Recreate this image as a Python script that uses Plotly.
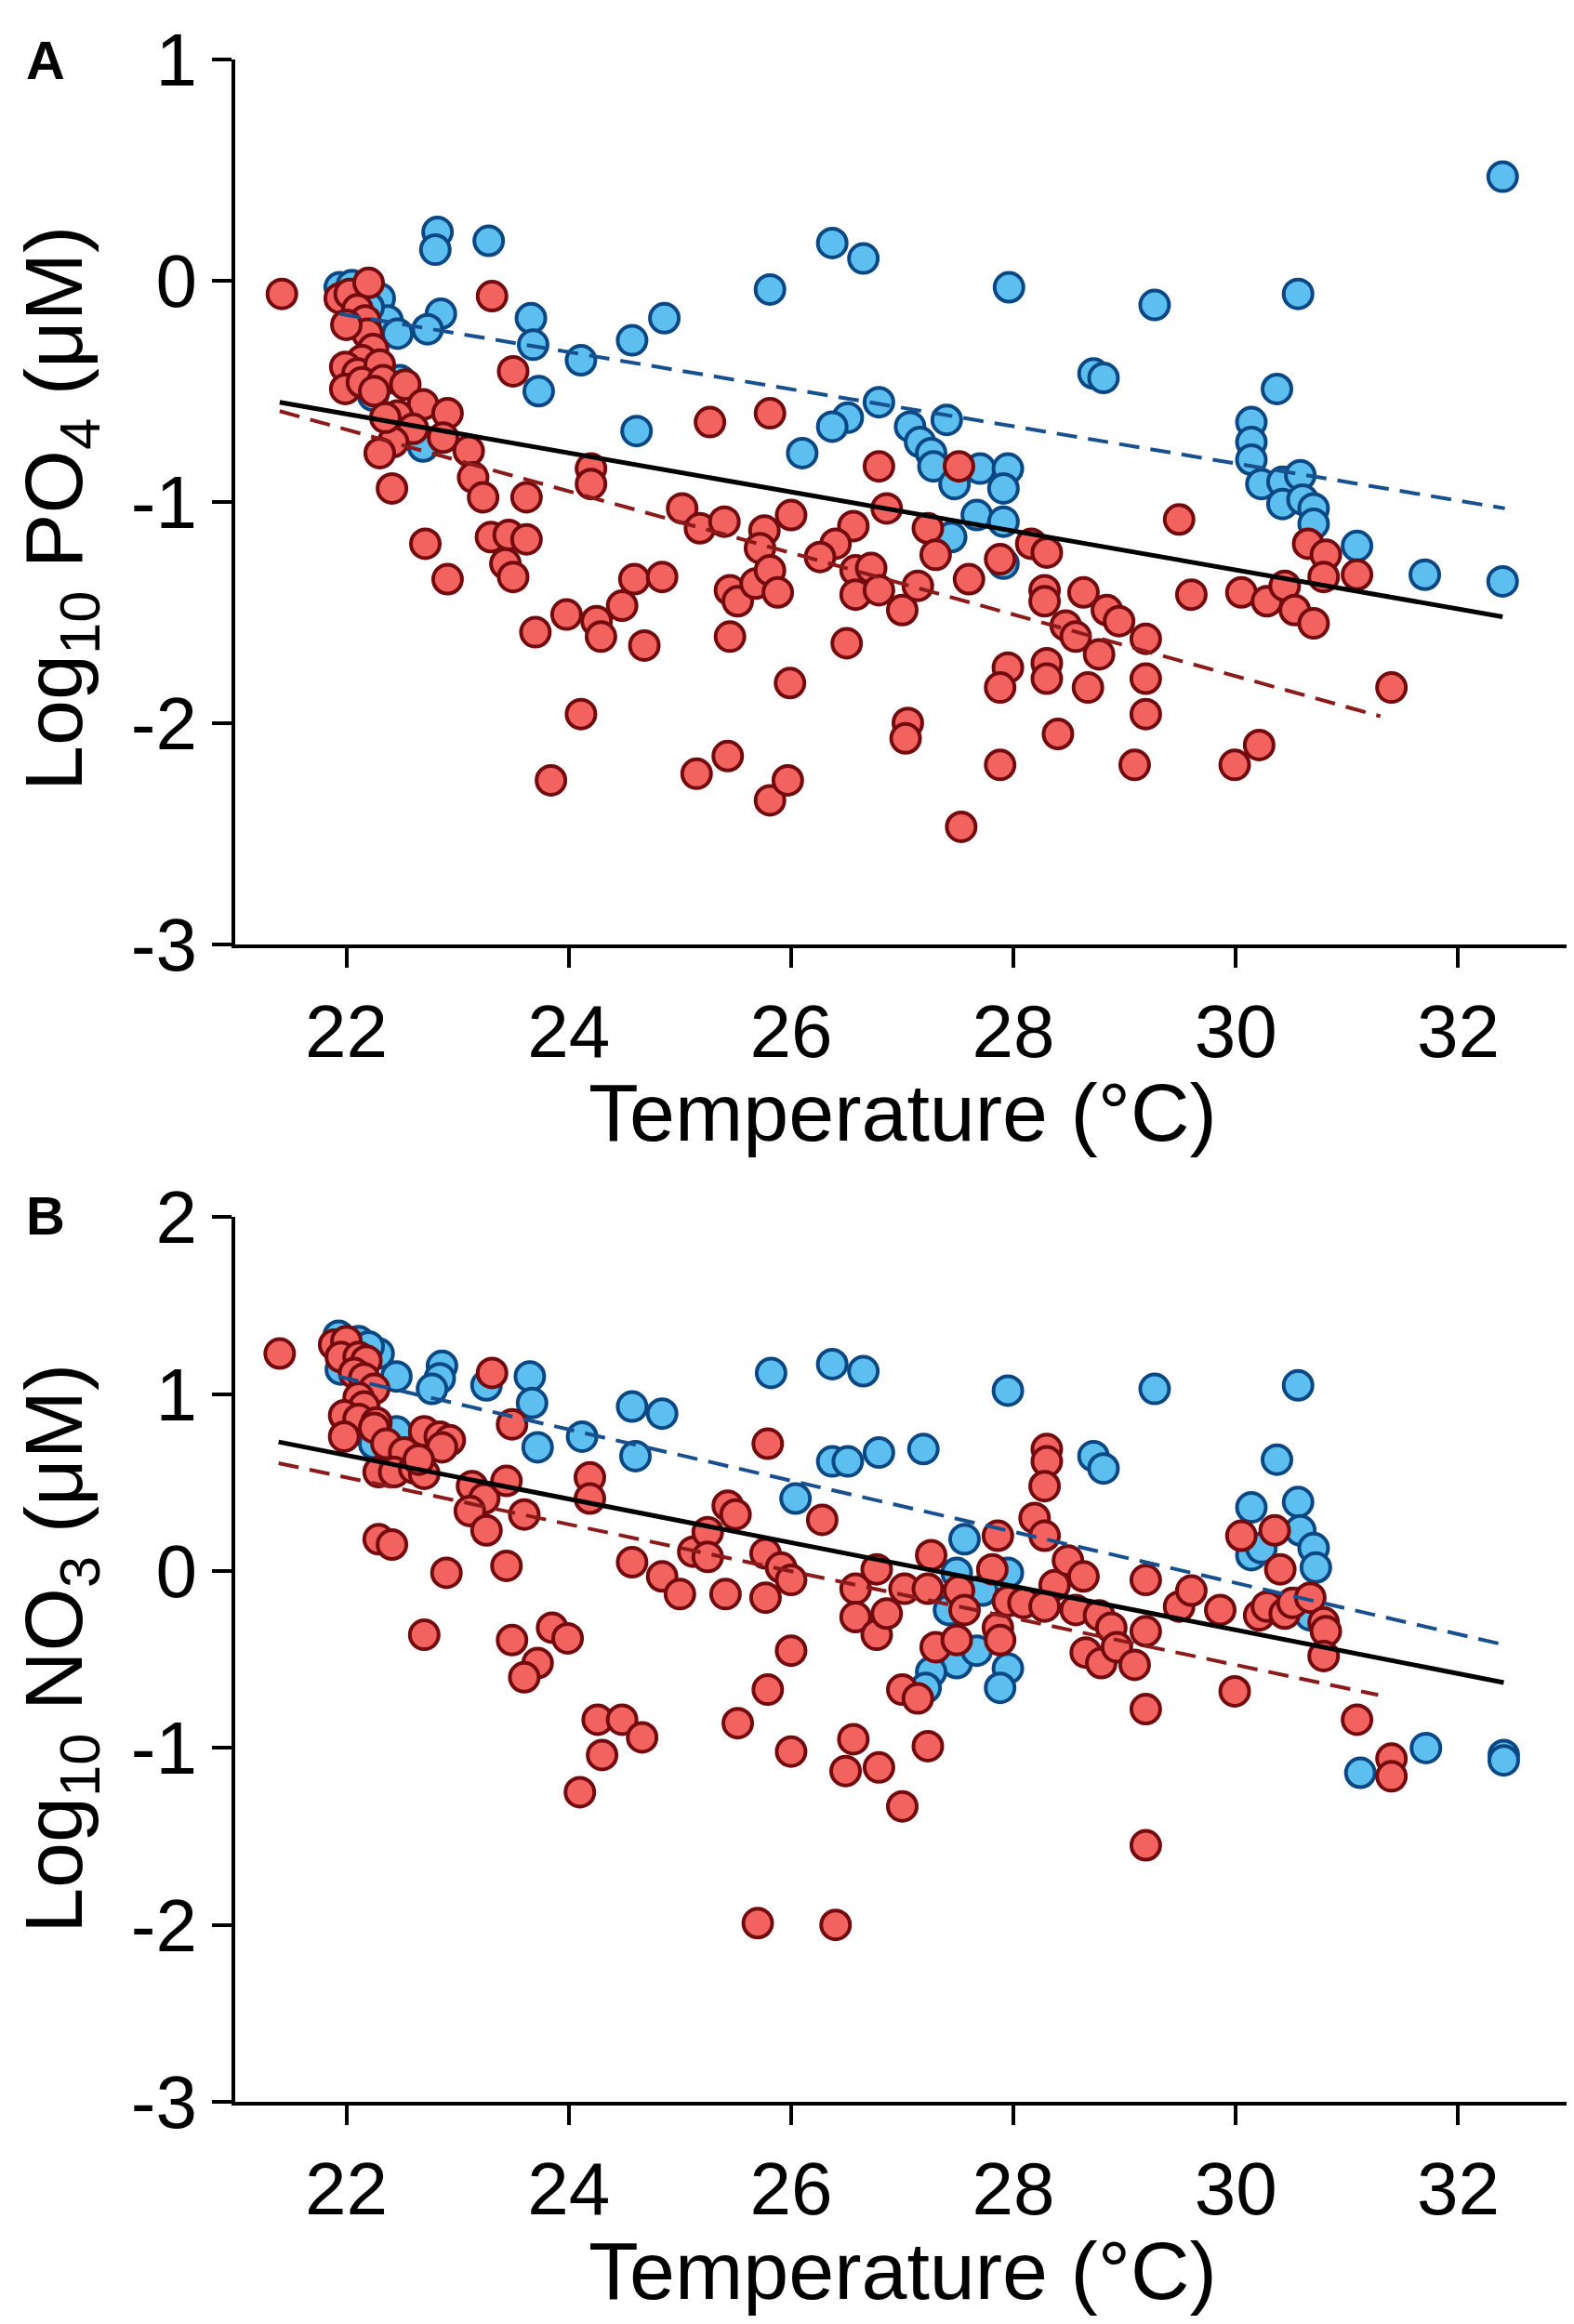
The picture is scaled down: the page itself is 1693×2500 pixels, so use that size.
import plotly.graph_objs as go

# ---- panel A: log10 PO4 vs temperature ----
po4_red_t = [21.42, 21.94, 22.03, 22.2, 22.1, 22.17, 22.19, 22.24, 22.14, 21.99, 22.1, 22.3, 21.99, 22.14,
             22.33, 22.53, 22.69, 22.91, 22.46, 22.6, 22.42, 22.3, 22.87, 23.1, 23.14, 23.23, 22.41, 22.71,
             22.91, 23.31, 23.5, 23.62, 23.3, 23.46, 23.62, 23.43, 23.5, 23.7, 23.98, 24.2, 24.2, 24.25,
             24.29, 24.48, 24.59, 24.84, 24.68, 24.11, 23.84, 25.27, 25.02, 25.18, 25.4, 25.45, 25.52, 25.68,
             25.76, 25.72, 25.81, 25.88, 25.45, 25.15, 25.43, 25.81, 25.81, 25.97, 25.99, 26.0, 22.0, 22.25,
             22.35,
             26.79, 27.51, 26.86, 26.56, 26.4, 26.26, 26.58, 26.72, 26.58, 26.79, 27.0, 27.14, 27.23, 27.3,
             27.6, 27.88, 28.16, 28.3, 28.28, 28.28, 28.63, 28.47, 28.56, 28.77, 28.84, 28.95, 29.19, 29.19,
             29.19, 29.09, 28.67, 28.3, 28.3, 27.95, 27.88, 28.4, 27.88, 27.53, 27.05, 27.03, 26.5, 29.49,
             29.6, 30.05, 30.28, 30.44, 30.53, 30.7, 30.65, 30.81, 30.79, 31.09, 31.4, 30.21, 29.99]
po4_red_y = [-0.06, -0.08, -0.06, -0.01, -0.13, -0.18, -0.24, -0.31, -0.36, -0.39, -0.42, -0.38, -0.49, -0.46,
             -0.45, -0.47, -0.56, -0.6, -0.61, -0.67, -0.73, -0.78, -0.71, -0.77, -0.89, -0.98, -0.94, -1.19,
             -1.35, -0.07, -0.41, -0.98, -1.16, -1.15, -1.17, -1.28, -1.34, -1.59, -1.51, -0.85, -0.92, -1.54,
             -1.61, -1.47, -1.35, -1.34, -1.65, -1.96, -2.26, -0.64, -1.03, -1.12, -1.09, -1.4, -1.45, -1.37,
             -1.13, -1.21, -1.31, -1.41, -1.61, -2.23, -2.15, -0.6, -2.35, -2.26, -1.82, -1.06, -0.2, -0.5,
             -0.62,
             -0.84, -0.84, -1.03, -1.11, -1.19, -1.25, -1.31, -1.3, -1.42, -1.4, -1.49, -1.38, -1.12, -1.24,
             -1.35, -1.26, -1.19, -1.23, -1.4, -1.45, -1.41, -1.56, -1.61, -1.69, -1.49, -1.54, -1.62, -1.8,
             -1.96, -2.19, -1.84, -1.73, -1.8, -1.75, -1.84, -2.05, -2.19, -2.47, -2.0, -2.07, -1.64, -1.08,
             -1.42, -1.41, -1.45, -1.38, -1.49, -1.55, -1.19, -1.24, -1.34, -1.33, -1.84, -2.1, -2.19]

po4_blue_t = [21.94, 22.3, 22.37, 22.46, 22.24, 22.48, 22.82, 22.8, 23.28, 22.85, 22.73, 23.66, 23.68, 23.73,
              24.11, 24.57, 24.86, 24.61, 25.81, 22.69, 22.05, 22.2,
              26.37, 26.65, 27.96, 29.27, 30.56, 32.4, 28.72, 28.81, 30.37, 26.79, 26.51, 26.37, 26.1, 27.07,
              27.16, 27.26, 27.28, 27.4, 27.47, 27.7, 27.95, 27.91, 27.67, 27.91, 27.44, 27.91, 30.14, 30.14,
              30.14, 30.23, 30.42, 30.58, 30.42, 30.6, 30.7, 30.7, 31.09, 31.7, 32.4]
po4_blue_y = [-0.03, -0.08, -0.18, -0.24, -0.52, -0.45, 0.22, 0.14, 0.18, -0.15, -0.22, -0.17, -0.29, -0.5,
              -0.36, -0.27, -0.17, -0.68, -0.04, -0.75, -0.02, -0.12,
              0.17, 0.1, -0.03, -0.11, -0.06, 0.47, -0.42, -0.44, -0.49, -0.55, -0.62, -0.66, -0.78, -0.66,
              -0.73, -0.78, -0.84, -0.63, -0.92, -0.85, -0.85, -0.94, -1.06, -1.09, -1.16, -1.28, -0.64, -0.73,
              -0.81, -0.92, -0.91, -0.88, -1.01, -0.99, -1.03, -1.1, -1.2, -1.33, -1.36]

# fitted lines (end points)
po4_fit_all_t = [21.4, 32.4]
po4_fit_all_y = [-0.55, -1.52]
po4_fit_blue_t = [21.94, 32.42]
po4_fit_blue_y = [-0.15, -1.03]
po4_fit_red_t = [21.4, 31.3]
po4_fit_red_y = [-0.59, -1.97]

# ---- panel B: log10 NO3 vs temperature ----
no3_red_t = [21.4, 21.89, 22.0, 21.95, 22.11, 22.18, 22.07, 22.16, 22.25, 22.11, 22.16, 21.98, 22.11, 22.27,
             22.25, 21.98, 22.36, 22.52, 22.7, 22.84, 22.93, 22.86, 22.29, 22.43, 22.61, 22.7, 22.65, 22.29,
             22.41, 22.9, 22.7, 23.31, 23.49, 23.13, 23.24, 23.11, 23.26, 23.44, 23.6, 23.44, 23.49, 23.72,
             23.6, 23.85, 23.99, 24.19, 24.19, 24.26, 24.48, 24.66, 24.3, 24.1, 24.57, 24.84, 25.0, 25.12,
             25.25, 25.25, 25.43, 25.5, 25.41, 25.52, 25.79, 25.77, 25.91, 25.77, 25.79, 26.0, 26.0, 25.7,
             26.0,
             26.28, 26.4, 26.56, 26.49, 26.79, 27.0, 27.23, 27.0, 27.14, 26.58, 26.77, 26.58, 26.77, 26.86,
             27.02, 27.23, 27.26, 27.3, 27.49, 27.51, 27.56, 27.86, 27.81, 27.86, 27.88, 27.95, 28.09, 28.19,
             28.3, 28.3, 28.28, 28.28, 28.37, 28.28, 28.49, 28.63, 28.56, 28.77, 28.88, 28.65, 28.79, 28.93,
             29.09, 29.19, 29.19, 29.19, 29.19, 29.49, 29.6, 29.86, 29.99, 30.05, 30.35, 30.4, 30.21, 30.28,
             30.44, 30.51, 30.67, 30.79, 30.81, 30.79, 31.09, 31.4, 31.4]
no3_red_y = [1.23, 1.28, 1.3, 1.21, 1.21, 1.19, 1.12, 1.09, 1.03, 0.98, 0.93, 0.88, 0.86, 0.84,
             0.81, 0.76, 0.72, 0.67, 0.79, 0.76, 0.74, 0.7, 0.56, 0.56, 0.58, 0.55, 0.63, 0.18,
             0.15, -0.01, -0.36, 1.12, 0.83, 0.48, 0.41, 0.34, 0.23, 0.51, 0.32, 0.03, -0.39, -0.52,
             -0.6, -0.32, -0.38, 0.53, 0.41, -0.84, -0.84, -0.94, -1.04, -1.25, 0.05, -0.03, -0.13, 0.11,
             0.22, 0.08, 0.37, 0.32, -0.13, -0.86, 0.72, 0.1, 0.02, -0.15, -0.67, -0.45, -1.02, -1.99,
             -0.05,
             0.29, -2.0, -0.95, -1.13, -1.11, -1.33, -0.99, -0.67, -0.72, -0.1, 0.01, -0.26, -0.36, -0.24,
             -0.1, -0.1, 0.09, -0.43, -0.39, -0.11, -0.22, 0.2, 0.01, -0.32, -0.39, -0.17, -0.18, 0.3,
             0.69, 0.62, 0.48, 0.2, -0.08, -0.2, 0.06, -0.03, -0.22, -0.25, -0.32, -0.46, -0.52, -0.43,
             -0.53, -0.34, -0.05, -0.78, -1.55, -0.2, -0.11, -0.22, -0.68, 0.2, 0.23, 0.01, -0.25, -0.2,
             -0.24, -0.18, -0.15, -0.29, -0.34, -0.48, -0.84, -1.06, -1.16]

no3_blue_t = [21.93, 22.11, 22.29, 22.45, 21.95, 22.86, 22.84, 22.77, 23.26, 23.65, 23.67, 23.72, 24.12, 24.57,
              24.84, 24.6, 25.82, 26.04, 22.25, 22.45, 22.2,
              26.37, 26.65, 27.95, 29.27, 30.56, 26.37, 26.51, 26.79, 27.19, 28.72, 28.81, 30.37, 30.14, 30.56,
              30.58, 30.7, 30.14, 30.23, 30.72, 30.58, 30.67, 27.56, 27.49, 27.72, 27.95, 27.42, 27.49, 27.67,
              27.26, 27.21, 27.95, 27.88, 31.12, 31.71, 32.41, 32.41]
no3_blue_y = [1.33, 1.3, 1.23, 1.1, 1.14, 1.16, 1.09, 1.03, 1.05, 1.1, 0.95, 0.7, 0.76, 0.93,
              0.89, 0.65, 1.12, 0.41, 0.72, 0.79, 1.27,
              1.17, 1.13, 1.02, 1.03, 1.05, 0.62, 0.62, 0.67, 0.69, 0.65, 0.58, 0.63, 0.36, 0.39,
              0.23, 0.13, 0.09, 0.13, 0.02, -0.18, -0.25, 0.18, -0.01, -0.11, -0.01, -0.22, -0.52, -0.45,
              -0.57, -0.66, -0.55, -0.66, -1.14, -1.0, -1.04, -1.07]

no3_fit_all_t = [21.39, 32.41]
no3_fit_all_y = [0.73, -0.63]
no3_fit_blue_t = [21.93, 32.37]
no3_fit_blue_y = [1.1, -0.41]
no3_fit_red_t = [21.39, 31.28]
no3_fit_red_y = [0.61, -0.7]

x_ticks = [22, 24, 26, 28, 30, 32]
po4_ticks = [-3, -2, -1, 0, 1]
no3_ticks = [-3, -2, -1, 0, 1, 2]

RED_FILL = '#F2625F'
RED_EDGE = '#730B0E'
BLUE_FILL = '#5CBFF0'
BLUE_EDGE = '#0B4883'
FONT = 'Liberation Sans, Arial, Helvetica, sans-serif'


def dots(t, y, fill, edge, xa, ya):
    return go.Scatter(x=t, y=y, mode='markers', xaxis=xa, yaxis=ya, showlegend=False,
                      marker=dict(size=31, color=fill, line=dict(color=edge, width=4)))


def fit(t, y, color, dash, width, xa, ya):
    return go.Scatter(x=t, y=y, mode='lines', xaxis=xa, yaxis=ya, showlegend=False,
                      line=dict(color=color, width=width, dash=dash))


traces = [
    dots(po4_blue_t, po4_blue_y, BLUE_FILL, BLUE_EDGE, 'x', 'y'),
    dots(po4_red_t, po4_red_y, RED_FILL, RED_EDGE, 'x', 'y'),
    fit(po4_fit_blue_t, po4_fit_blue_y, '#174F8F', '22px,12px', 4, 'x', 'y'),
    fit(po4_fit_red_t, po4_fit_red_y, '#8B1A1A', '22px,12px', 4, 'x', 'y'),
    fit(po4_fit_all_t, po4_fit_all_y, 'black', 'solid', 5, 'x', 'y'),
    dots(no3_blue_t, no3_blue_y, BLUE_FILL, BLUE_EDGE, 'x2', 'y2'),
    dots(no3_red_t, no3_red_y, RED_FILL, RED_EDGE, 'x2', 'y2'),
    fit(no3_fit_blue_t, no3_fit_blue_y, '#174F8F', '22px,12px', 4, 'x2', 'y2'),
    fit(no3_fit_red_t, no3_fit_red_y, '#8B1A1A', '22px,12px', 4, 'x2', 'y2'),
    fit(no3_fit_all_t, no3_fit_all_y, 'black', 'solid', 5, 'x2', 'y2'),
]

axis_style = dict(showline=True, linewidth=4, linecolor='black', ticks='outside', ticklen=21,
                  tickwidth=4, tickcolor='black', showgrid=False, zeroline=False,
                  tickfont=dict(size=80, color='black', family=FONT))

fig = go.Figure(data=traces)
fig.update_layout(
    width=1693, height=2500,
    margin=dict(l=245, r=13, t=34, b=247),
    plot_bgcolor='white', paper_bgcolor='white',
    font=dict(family=FONT, color='black'),
    xaxis=dict(domain=[0, 1], anchor='y', range=[21.0, 33.0], tickvals=x_ticks, **axis_style),
    yaxis=dict(domain=[0.5669, 1], anchor='x', range=[-3, 1], tickvals=po4_ticks,
               ticktext=[str(v) for v in po4_ticks], **axis_style),
    xaxis2=dict(domain=[0, 1], anchor='y2', range=[21.0, 33.0], tickvals=x_ticks, **axis_style),
    yaxis2=dict(domain=[0, 0.4331], anchor='x2', range=[-3, 2], tickvals=no3_ticks,
                ticktext=[str(v) for v in no3_ticks], **axis_style),
)

title_font = dict(size=88, color='black', family=FONT)
label_font = dict(size=58, color='black', family=FONT)
notes = [
    dict(text='<b>A</b>', x=-0.142, y=1.0, font=label_font, textangle=0),
    dict(text='<b>B</b>', x=-0.142, y=0.434, font=label_font, textangle=0),
    dict(text='Temperature (°C)', x=0.5, y=0.4845, font=title_font, textangle=0),
    dict(text='Temperature (°C)', x=0.5, y=-0.0825, font=title_font, textangle=0),
    dict(text='Log<sub>10</sub> PO<sub>4</sub> (μM)', x=-0.132, y=0.78, font=title_font, textangle=-90),
    dict(text='Log<sub>10</sub> NO<sub>3</sub> (μM)', x=-0.132, y=0.222, font=title_font, textangle=-90),
]
for n in notes:
    fig.add_annotation(xref='paper', yref='paper', showarrow=False, xanchor='center', yanchor='middle', **n)

fig.write_html('out.html')
